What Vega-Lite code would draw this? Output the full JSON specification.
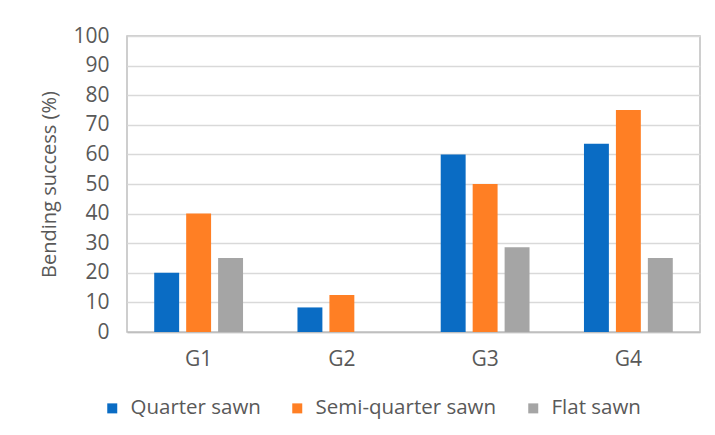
{
  "$schema": "https://vega.github.io/schema/vega-lite/v6.json",
  "width": 573,
  "height": 296,
  "autosize": {"type": "none"},
  "padding": {"left": 127, "top": 36, "right": 15, "bottom": 103},
  "background": "white",
  "config": {
    "font": "Open Sans",
    "view": {"stroke": "#BFBFBF", "strokeWidth": 1.5}
  },
  "data": {
    "values": [
      {"group": "G1", "type": "Quarter sawn", "value": 20},
      {"group": "G1", "type": "Semi-quarter sawn", "value": 40},
      {"group": "G1", "type": "Flat sawn", "value": 25},
      {"group": "G2", "type": "Quarter sawn", "value": 8.3},
      {"group": "G2", "type": "Semi-quarter sawn", "value": 12.5},
      {"group": "G2", "type": "Flat sawn", "value": 0},
      {"group": "G3", "type": "Quarter sawn", "value": 60},
      {"group": "G3", "type": "Semi-quarter sawn", "value": 50},
      {"group": "G3", "type": "Flat sawn", "value": 28.6},
      {"group": "G4", "type": "Quarter sawn", "value": 63.6},
      {"group": "G4", "type": "Semi-quarter sawn", "value": 75},
      {"group": "G4", "type": "Flat sawn", "value": 25}
    ]
  },
  "mark": {"type": "bar"},
  "encoding": {
    "x": {
      "field": "group",
      "type": "nominal",
      "scale": {"paddingInner": 0.38, "paddingOuter": 0.19},
      "axis": {
        "title": null,
        "labelAngle": 0,
        "labelFontSize": 21,
        "labelColor": "#595959",
        "labelPadding": 16,
        "ticks": false,
        "domainColor": "#BFBFBF",
        "domainWidth": 1.5
      }
    },
    "xOffset": {
      "field": "type",
      "type": "nominal",
      "sort": ["Quarter sawn", "Semi-quarter sawn", "Flat sawn"],
      "scale": {"paddingInner": 0.22, "paddingOuter": 0}
    },
    "y": {
      "field": "value",
      "type": "quantitative",
      "scale": {"domain": [0, 100]},
      "axis": {
        "title": "Bending success (%)",
        "titleFontSize": 20,
        "titleFontWeight": "normal",
        "titleColor": "#595959",
        "titlePadding": 13,
        "values": [0, 10, 20, 30, 40, 50, 60, 70, 80, 90, 100],
        "labelFontSize": 21,
        "labelColor": "#595959",
        "labelPadding": 18,
        "ticks": false,
        "domain": false,
        "gridColor": "#D9D9D9",
        "gridWidth": 1.5
      }
    },
    "color": {
      "field": "type",
      "type": "nominal",
      "sort": ["Quarter sawn", "Semi-quarter sawn", "Flat sawn"],
      "scale": {
        "domain": ["Quarter sawn", "Semi-quarter sawn", "Flat sawn"],
        "range": ["#0A6CC4", "#FF7F24", "#A5A5A5"]
      },
      "legend": {
        "title": null,
        "orient": "none",
        "direction": "horizontal",
        "legendX": -25,
        "legendY": 362,
        "symbolType": "square",
        "symbolSize": 100,
        "symbolStrokeWidth": 0,
        "labelFontSize": 20.5,
        "labelLimit": 300,
        "labelColor": "#595959",
        "labelOffset": 8,
        "columnPadding": 26
      }
    }
  }
}
